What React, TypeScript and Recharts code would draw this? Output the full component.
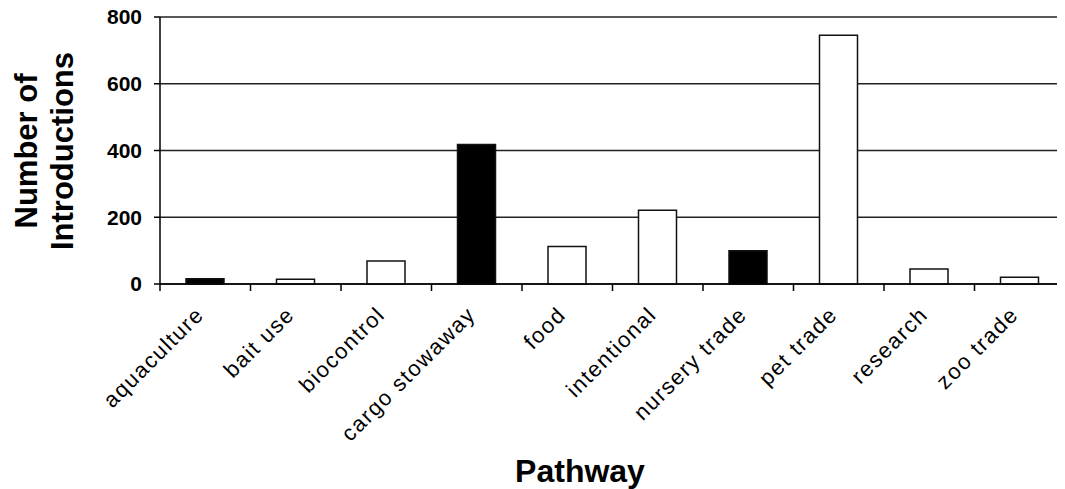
import { BarChart, Bar, XAxis, YAxis, CartesianGrid, Cell, Label } from 'recharts';

// pathways and number of introductions
const pathways = [
    'aquaculture', 'bait use', 'biocontrol', 'cargo stowaway', 'food',
    'intentional', 'nursery trade', 'pet trade', 'research', 'zoo trade',
];
const introductions = [16, 14, 69, 418, 112, 221, 100, 745, 45, 20];
// dark bars in the original figure
const darkPathways = ['aquaculture', 'cargo stowaway', 'nursery trade'];
const yTicks = [0, 200, 400, 600, 800];

const data = pathways.map((name, i) => ({ name, value: introductions[i] }));

const W = 1065;
const H = 489;
const TOP = 17;
const Y_AXIS_W = 160;
const PLOT_H = 267;
const AXIS_Y = TOP + PLOT_H;
const BAND = (W - Y_AXIS_W) / pathways.length;
const FONT = "Arial, 'Liberation Sans', sans-serif";

function PathwayTick(props: any) {
    const { x, payload, index } = props;
    const left = x - BAND / 2;
    const tx = x;
    const ty = AXIS_Y + 32;
    return (
        <g>
            <line x1={left} x2={left} y1={AXIS_Y} y2={AXIS_Y + 7} stroke="#000" strokeWidth={1.5} />
            {index === pathways.length - 1 && (
                <line x1={x + BAND / 2} x2={x + BAND / 2} y1={AXIS_Y} y2={AXIS_Y + 7} stroke="#000" strokeWidth={1.5} />
            )}
            <text
                x={tx}
                y={ty}
                textAnchor="end"
                transform={`rotate(-45, ${tx}, ${ty})`}
                fontSize={22}
                letterSpacing={1.5}
                fontFamily={FONT}
                fill="#000"
            >
                {payload.value}
            </text>
        </g>
    );
}

export default function App() {
    return (
        <div style={{ margin: '-8px 0 0 -8px', width: W, height: H, background: '#fff' }}>
            <BarChart width={W} height={H} data={data} margin={{ top: TOP, right: 0, bottom: 0, left: 0 }}>
                <CartesianGrid vertical={false} stroke="#222" strokeWidth={1.5} />
                <XAxis
                    dataKey="name"
                    interval={0}
                    height={H - AXIS_Y}
                    tick={<PathwayTick />}
                    tickLine={false}
                    axisLine={{ stroke: '#000', strokeWidth: 1.5 }}
                >
                    <Label
                        content={() => (
                            <text x={580} y={482} textAnchor="middle" fontSize={32} fontWeight="bold" fontFamily={FONT} fill="#000">
                                Pathway
                            </text>
                        )}
                    />
                </XAxis>
                <YAxis
                    width={Y_AXIS_W}
                    domain={[0, 800]}
                    ticks={yTicks}
                    interval={0}
                    tickSize={6}
                    tickMargin={12}
                    tick={{ fontSize: 21, fontWeight: 'bold', fontFamily: FONT, fill: '#000' }}
                    tickLine={{ stroke: '#000', strokeWidth: 1.5 }}
                    axisLine={{ stroke: '#000', strokeWidth: 1.5 }}
                >
                    <Label
                        content={() => (
                            <g fontFamily={FONT} fontWeight="bold" fontSize={31} fill="#000">
                                <text x={37} y={151} textAnchor="middle" transform="rotate(-90, 37, 151)">Number of</text>
                                <text x={73} y={151} textAnchor="middle" transform="rotate(-90, 73, 151)">Introductions</text>
                            </g>
                        )}
                    />
                </YAxis>
                <Bar dataKey="value" barSize={38} stroke="#111" strokeWidth={1.5} isAnimationActive={false}>
                    {data.map((d) => (
                        <Cell key={d.name} fill={darkPathways.includes(d.name) ? '#000' : '#fff'} />
                    ))}
                </Bar>
            </BarChart>
        </div>
    );
}
